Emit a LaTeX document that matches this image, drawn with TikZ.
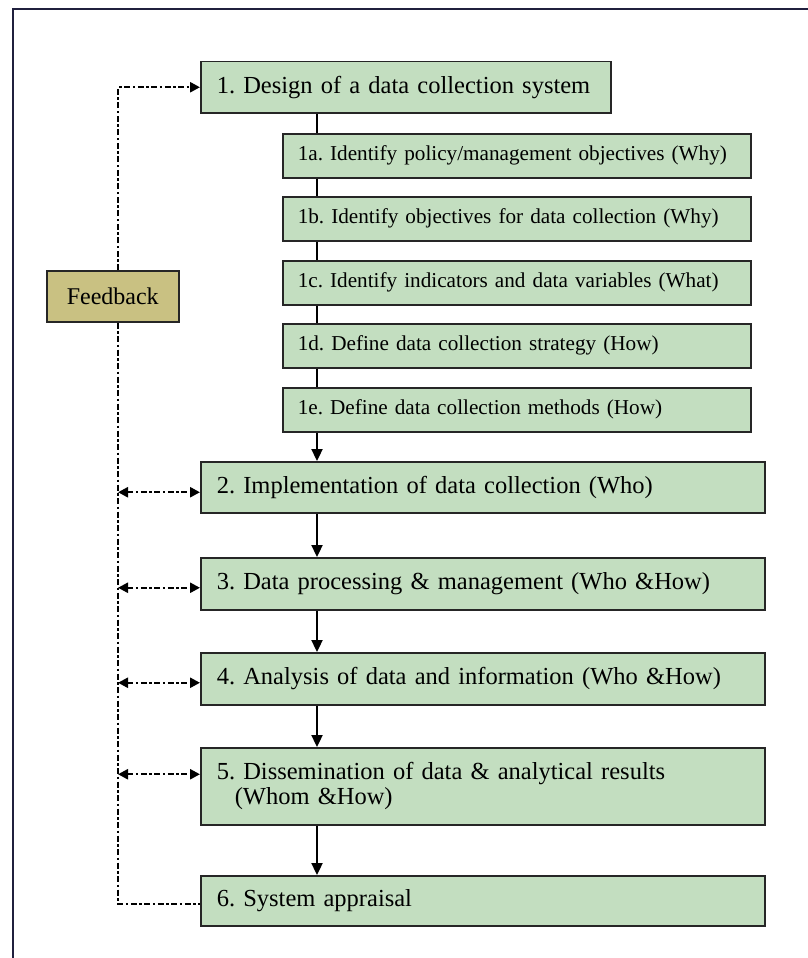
\documentclass[tikz,border=0pt]{standalone}
\usepackage{fontspec}
\setmainfont{Liberation Serif}
\usetikzlibrary{arrows.meta}

\definecolor{stagefill}{RGB}{195,222,192}
\definecolor{fbfill}{RGB}{201,193,130}
\definecolor{frameline}{RGB}{32,32,62}

\tikzset{
  fbhead/.tip={Triangle[length=10pt,width=10pt]},
  flowhead/.tip={Triangle[length=12pt,width=11pt]}
}
\frenchspacing

\begin{document}
\begin{tikzpicture}[x=1pt,y=-1pt,
  stage/.style={draw=black!85, line width=1.5pt, fill=stagefill, anchor=north west,
    inner xsep=16pt, inner ysep=0pt, align=left,
    font=\fontsize{24.5pt}{25pt}\selectfont},
  substage/.style={stage, minimum width=468pt, text width=438pt, minimum height=44pt,
    inner xsep=15pt, font=\fontsize{21.2pt}{23pt}\selectfont},
  mainstage/.style={stage, minimum width=564pt, text width=532pt},
  fbbox/.style={draw=black!85, line width=1.5pt, fill=fbfill, anchor=north west,
    minimum width=132pt, minimum height=51pt, inner sep=0pt,
    font=\fontsize{24pt}{25pt}\selectfont},
  flow/.style={line width=2.3pt, black},
  flowarrow/.style={flow, -flowhead},
  fbline/.style={line width=2.4pt, black, dash pattern=on 6pt off 2.5pt on 2.5pt off 2.5pt}]

\useasboundingbox (0,0) rectangle (808,958);

% page frame
\draw[frameline, line width=2.2pt] (13,962) -- (13,9) -- (812,9);

% guide coordinates for the two vertical runs
\coordinate (spine) at (317,0);
\coordinate (rail) at (118,0);

% step 1 and its sub-steps
\node[stage, minimum width=410pt, text width=378pt, minimum height=51pt] (s1) at (200,61)
  {1. Design of a data collection system};
\node[substage] (s1a) at (282,133) {1a. Identify policy/management objectives (Why)};
\node[substage] (s1b) at (282,196) {1b. Identify objectives for data collection (Why)};
\node[substage] (s1c) at (282,260) {1c. Identify indicators and data variables (What)};
\node[substage] (s1d) at (282,323) {1d. Define data collection strategy (How)};
\node[substage] (s1e) at (282,387) {1e. Define data collection methods (How)};

% steps 2 to 6
\node[mainstage, minimum height=51pt] (s2) at (200,461) {2. Implementation of data collection (Who)};
\node[mainstage, minimum height=52pt] (s3) at (200,557) {3. Data processing \& management (Who \&How)};
\node[mainstage, minimum height=52pt] (s4) at (200,652) {4. Analysis of data and information (Who \&How)};
\node[mainstage, minimum height=77pt] (s5) at (200,747)
  {5. Dissemination of data \& analytical results\\\hspace*{18pt}(Whom \&How)};
\node[mainstage, minimum height=50pt] (s6) at (200,875) {6. System appraisal};

% feedback box
\node[fbbox] (fb) at (46,270) {Feedback};

% main flow
\draw[flow] (s1.south -| spine) -- (s1a.north -| spine);
\draw[flow] (s1a.south -| spine) -- (s1b.north -| spine);
\draw[flow] (s1b.south -| spine) -- (s1c.north -| spine);
\draw[flow] (s1c.south -| spine) -- (s1d.north -| spine);
\draw[flow] (s1d.south -| spine) -- (s1e.north -| spine);
\draw[flowarrow] (s1e.south -| spine) -- (s2.north -| spine);
\draw[flowarrow] (s2.south -| spine) -- (s3.north -| spine);
\draw[flowarrow] (s3.south -| spine) -- (s4.north -| spine);
\draw[flowarrow] (s4.south -| spine) -- (s5.north -| spine);
\draw[flowarrow] (s5.south -| spine) -- (s6.north -| spine);

% attachment points of the feedback arrows
\coordinate (in2) at ([yshift=-5pt]s2.west);
\coordinate (in3) at ([yshift=-4pt]s3.west);
\coordinate (in4) at ([yshift=-4pt]s4.west);
\coordinate (in5) at ([yshift=12pt]s5.west);
\coordinate (in6) at ([yshift=-3pt]s6.west);

% feedback loop
\draw[fbline, -fbhead] (fb.north -| rail) |- (s1.west);
\draw[fbline] (fb.south -| rail) |- (in6);
\draw[fbline, fbhead-fbhead] (rail |- in2) -- (in2);
\draw[fbline, fbhead-fbhead] (rail |- in3) -- (in3);
\draw[fbline, fbhead-fbhead] (rail |- in4) -- (in4);
\draw[fbline, fbhead-fbhead] (rail |- in5) -- (in5);
\end{tikzpicture}
\end{document}
